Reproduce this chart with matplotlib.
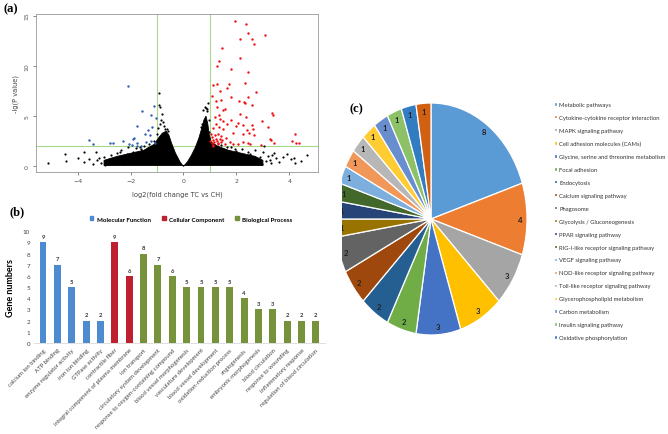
import matplotlib
matplotlib.use("Agg")
import matplotlib.pyplot as plt
from matplotlib.patches import Patch

# ---- data: panel (a) volcano plot ----
up_x = [1.95, 2.37, 2.45, 2.14, 2.59, 2.65, 3.07, 1.47, 2.15, 1.36, 1.27, 1.80, 2.45, 2.31,
        1.70, 1.26, 1.12, 1.65, 2.75, 1.37, 1.07, 1.79, 2.44, 2.09, 2.27, 2.33, 1.21, 1.40,
        2.60, 1.27, 1.58, 1.50, 3.36, 3.38, 1.36, 2.15, 1.18, 2.37, 2.98, 1.81, 1.37, 1.51,
        1.65, 2.06, 2.26, 2.58, 1.22, 1.12, 1.33, 3.21, 1.50, 1.99, 2.40, 2.61, 1.87, 2.47,
        1.04, 1.31, 2.23, 2.65, 4.20, 1.18, 1.43, 1.62, 3.28, 3.32, 1.12, 1.25, 1.41, 1.75,
        2.25, 2.44, 3.41, 4.08, 4.25, 4.36, 1.12, 1.31, 1.56, 1.87, 2.06, 2.53, 2.92, 1.06,
        1.37, 1.08, 1.15, 1.22, 1.30, 1.45, 1.02, 1.10]
up_y = [14.5, 14.2, 13.3, 12.7, 12.7, 12.2, 13.1, 11.8, 10.8, 10.5, 10.0, 9.7, 9.4, 8.3,
        8.2, 8.2, 8.1, 7.8, 7.4, 7.5, 7.0, 6.9, 6.9, 6.5, 6.4, 6.3, 6.5, 6.6,
        6.1, 5.9, 5.7, 5.6, 5.3, 5.1, 5.1, 5.2, 4.9, 4.9, 4.5, 4.6, 4.7, 4.5,
        4.2, 4.3, 4.1, 4.1, 4.2, 3.8, 3.9, 3.9, 3.7, 4.0, 3.6, 3.7, 3.3, 3.3,
        3.2, 3.2, 3.2, 3.1, 3.2, 3.1, 3.0, 2.8, 2.7, 2.6, 2.6, 2.5, 2.4, 2.4,
        2.4, 2.35, 2.35, 2.5, 2.3, 2.3, 2.15, 2.2, 2.2, 2.2, 2.2, 2.2, 2.1, 2.35,
        2.75, 2.9, 2.45, 2.7, 2.3, 2.6, 2.5, 2.05]

down_x = [-2.11, -1.13, -1.56, -1.21, -1.03, -1.77, -1.18, -1.33, -1.25, -1.45, -1.86, -1.92,
          -3.56, -3.41, -2.79, -2.65, -2.28, -2.06, -1.77, -1.43, -1.21, -1.08, -1.62, -1.96,
          -1.75]
down_y = [8.0, 6.0, 5.5, 5.1, 4.8, 4.0, 3.9, 3.6, 3.1, 3.2, 2.85, 2.7,
          2.6, 2.2, 2.3, 2.3, 2.55, 2.25, 2.35, 2.4, 2.5, 2.35, 2.05, 2.15,
          2.0]

other_x = [-5.12, -4.47, -4.42, -4.00, -3.75, -3.75, -3.58, -3.30, -3.25, -3.10, -3.00, -2.90,
           -2.85, -2.75, -2.60, -2.50, -2.45, -2.35, -2.20, -2.10, -2.00, -1.90, -1.80, -1.70,
           -1.60, -1.50, -1.35, -1.20, -0.94, -0.91, -0.88, -0.82, -0.85, -0.78, -0.72, -0.90,
           -0.95, -1.00, -0.70, 0.75, 0.80, 0.85, 0.90, 0.93, 0.89, 0.95, 0.98,
           1.20, 1.50, 1.80, 2.00, 2.20, 2.50, 2.70, 2.90, 3.00, 3.10, 3.20, 3.30,
           3.35, 3.50, 3.60, 3.75, 3.90, 4.05, 4.16, 4.20, 4.45, 4.67, 3.40, 3.05,
           2.95, 2.60, 3.25, -3.40, -3.20, -2.95, -2.70, -2.30, -2.15, 2.35, 2.80,
           -1.10, -1.30, -1.65, -2.40, 1.40, 1.65, 1.95, 2.45, -0.62, -0.58, 0.70, 0.66]
other_y = [0.35, 1.20, 0.55, 0.85, 1.40, 0.40, 0.75, 1.45, 0.60, 0.30, 0.90, 0.45,
           0.20, 1.10, 0.70, 1.30, 0.35, 1.60, 0.90, 1.90, 0.50, 1.40, 1.80, 1.10,
           1.70, 2.00, 1.85, 2.05, 7.30, 6.10, 5.90, 5.20, 4.60, 4.40, 4.00, 4.20,
           3.80, 3.20, 3.70, 5.60, 5.90, 5.80, 5.50, 6.30, 5.70, 4.60, 3.40,
           1.90, 1.70, 1.90, 1.50, 1.70, 1.20, 1.60, 0.90, 1.40, 0.50, 1.00, 0.30,
           1.10, 0.80, 0.45, 0.95, 1.25, 0.70, 0.85, 0.35, 0.55, 1.10, 1.30, 2.00,
           0.20, 0.30, 0.65, 0.25, 0.80, 0.15, 0.30, 0.20, 1.20, 0.40, 0.25,
           2.50, 2.20, 1.95, 1.45, 2.10, 1.95, 1.75, 1.45, 3.70, 3.55, 4.20, 3.95]

# outline of the dense black cloud
core_x = [-3.0, -3.0, -2.5, -2.0, -1.5, -1.1, -0.95, -0.8, -0.65, -0.55, -0.45, -0.3, -0.12,
          0.0, 0.15, 0.3, 0.45, 0.58, 0.68, 0.77, 0.85, 0.92, 0.97, 1.05, 1.3, 1.7, 2.2,
          2.7, 3.0, 3.0]
core_y = [0.08, 0.6, 1.0, 1.3, 1.6, 2.2, 2.8, 3.3, 3.5, 3.1, 2.3, 1.3, 0.4,
          0.0, 0.45, 1.1, 1.9, 2.8, 3.7, 4.6, 5.0, 4.2, 3.2, 2.4, 2.0, 1.6, 1.3,
          1.0, 0.6, 0.08]

# ---- data: panel (b) GO terms ----
go_terms = ["calcium ion binding", "ATP binding", "enzyme regulator activity",
            "iron ion binding", "GTPase activity", "contractile fiber",
            "integral component of plasma membrane", "ion transport",
            "circulatory system development", "response to oxygen-containing compound",
            "blood vessel morphogenesis", "vasculature development",
            "blood vessel development", "oxidation-reduction process", "angiogenesis",
            "embryonic morphogenesis", "blood circulation", "response to wounding",
            "inflammatory response", "regulation of blood circulation"]
go_counts = [9, 7, 5, 2, 2, 9, 6, 8, 7, 6, 5, 5, 5, 5, 4, 3, 3, 2, 2, 2]
go_groups = ["MF"] * 5 + ["CC"] * 2 + ["BP"] * 13
group_names = {"MF": "Molecular Function", "CC": "Cellular Component", "BP": "Biological Process"}
group_colors = {"MF": "#4E8AD0", "CC": "#BE2030", "BP": "#76933C"}

# ---- data: panel (c) KEGG pathways ----
kegg_names = ["Metabolic pathways", "Cytokine-cytokine receptor interaction",
              "MAPK signaling pathway", "Cell adhesion molecules (CAMs)",
              "Glycine, serine and threonine metabolism", "Focal adhesion", "Endocytosis",
              "Calcium signaling pathway", "Phagosome", "Glycolysis / Gluconeogenesis",
              "PPAR signaling pathway", "RIG-I-like receptor signaling pathway",
              "VEGF signaling pathway", "NOD-like receptor signaling pathway",
              "Toll-like receptor signaling pathway", "Glycerophospholipid metabolism",
              "Carbon metabolism", "Insulin signaling pathway", "Oxidative phosphorylation",
              ""]  # last slice has no legend entry in the figure
kegg_counts = [8, 4, 3, 3, 3, 2, 2, 2, 2, 1, 1, 1, 1, 1, 1, 1, 1, 1, 1, 1]
kegg_colors = ["#5B9BD5", "#ED7D31", "#A5A5A5", "#FFC000", "#4472C4", "#70AD47", "#255E91",
               "#9E480E", "#636363", "#997300", "#264478", "#43682B", "#7CAFDD", "#F1975A",
               "#B7B7B7", "#FFCD33", "#698ED0", "#8CC168", "#327DC2", "#D26012"]

W, H = 668, 435
fig = plt.figure(figsize=(W / 100, H / 100), dpi=100)


def px_axes(left, top, right, bottom):
    return fig.add_axes([left / W, 1 - bottom / H, (right - left) / W, (bottom - top) / H])


serif = "Liberation Serif"
sans = "Lato"

# ---------- (a) ----------
ax = px_axes(36, 15, 318, 173)
ax.fill(core_x, core_y, color="black", lw=0.6, zorder=2)
ax.scatter(other_x, other_y, s=2.5, c="black", lw=0, zorder=3)
ax.scatter(down_x, down_y, s=3, c="#2F5FB0", lw=0, zorder=3)
ax.scatter(up_x, up_y, s=3, c="#F01010", lw=0, zorder=3)
for v in (-1, 1):
    ax.axvline(v, color="#A8D88A", lw=0.8, zorder=1)
ax.axhline(2, color="#A8D88A", lw=0.8, zorder=1)
ax.set_xlim(-5.57, 5.08)
ax.set_ylim(-0.56, 15.16)
ax.set_xticks([-4, -2, 0, 2, 4])
ax.set_yticks([0, 5, 10, 15])
ax.tick_params(labelsize=4.5, colors="#555555", length=2.5, width=0.5, pad=2)
for lab in ax.get_yticklabels():
    lab.set_rotation(90)
    lab.set_va("center")
for s in ax.spines.values():
    s.set_color("#999999")
    s.set_linewidth(0.6)
ax.set_xlabel("log2(fold change TC vs CH)", fontsize=4.8, color="#444444", labelpad=5)
ax.set_ylabel("-lg(P value)", fontsize=4.8, color="#444444", labelpad=4)
fig.text(3 / W, 1 - 9 / H, "(a)", fontsize=9, fontweight="bold", family=serif, va="center")

# ---------- (b) ----------
bx = px_axes(34.4, 232.3, 324.5, 344)
pos = list(range(len(go_terms)))
bar_colors = [group_colors[g] for g in go_groups]
bars = bx.bar(pos, go_counts, width=0.48, color=bar_colors)
for p, c in zip(pos, go_counts):
    bx.text(p, c + 0.3, str(c), ha="center", va="bottom", fontsize=4.2,
            fontweight="bold", color="#333333", family=sans)
bx.set_xlim(-0.6, 19.6)
bx.set_ylim(0, 10)
bx.set_yticks(range(0, 11))
bx.set_xticks(pos)
bx.set_xticklabels(go_terms, rotation=45, ha="right", rotation_mode="anchor",
                   fontsize=4.3, color="#444444", family=sans)
bx.tick_params(axis="y", labelsize=4.5, labelcolor="#444444", length=0, pad=3)
bx.tick_params(axis="x", length=0, pad=3)
for lab in bx.get_yticklabels():
    lab.set_family(sans)
for name in ("top", "right", "left"):
    bx.spines[name].set_visible(False)
bx.spines["bottom"].set_color("#D9D9D9")
bx.spines["bottom"].set_linewidth(0.6)
bx.set_ylabel("Gene numbers", fontsize=6.5, fontweight="bold", family=sans, labelpad=6)
handles = [Patch(color=group_colors[k], label=group_names[k]) for k in ("MF", "CC", "BP")]
bx.legend(handles=handles, loc="center", bbox_to_anchor=(0.54, 1.11), ncol=3, frameon=False,
          prop={"family": sans, "size": 4.5, "weight": "bold"}, handlelength=0.6,
          handleheight=0.6, handletextpad=0.5, columnspacing=1.8)
fig.text(10 / W, 1 - 212 / H, "(b)", fontsize=9, fontweight="bold", family=serif, va="center")

# ---------- (c) ----------
rx, ry = 96.0, 116.0
cx, cy = 431.0, 220.0
xl, xr, yb, yt = -0.93, 1.12, -1.12, 1.12
cax = px_axes(cx + xl * rx, cy - yt * ry, cx + xr * rx, cy - yb * ry)
total = sum(kegg_counts)
wedges, _, autotexts = cax.pie(
    kegg_counts, colors=kegg_colors, startangle=90, counterclock=False,
    autopct=lambda p: "%d" % round(p * total / 100.0), pctdistance=0.93,
    wedgeprops={"edgecolor": "white", "linewidth": 0.9, "clip_on": True},
    textprops={"fontsize": 5.5, "color": "#222222", "family": sans, "fontweight": "bold"})
for t in autotexts:
    t.set_clip_on(True)
cax.set_aspect("auto")
cax.set_xlim(xl, xr)
cax.set_ylim(yb, yt)
cax.set_frame_on(False)
leg = cax.legend(wedges[:19], kegg_names[:19], loc="upper left",
                 bbox_to_anchor=(551 / W, 1 - 100 / H), bbox_transform=fig.transFigure,
                 frameon=False, prop={"family": ["Liberation Sans Narrow", sans], "size": 4.2},
                 handlelength=0.5, handleheight=0.5, handletextpad=0.45, labelspacing=1.36,
                 borderpad=0)
for t in leg.get_texts():
    t.set_color("#333333")
fig.text(350 / W, 1 - 109 / H, "(c)", fontsize=9, fontweight="bold", family=serif, va="center")

fig.savefig("out.png", dpi=100)
